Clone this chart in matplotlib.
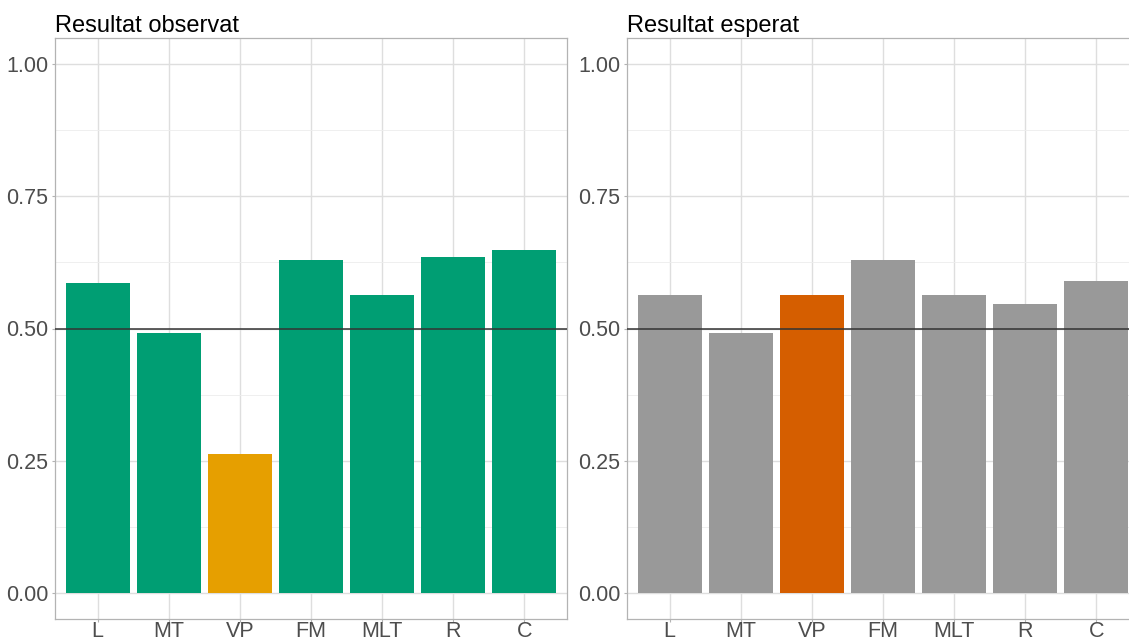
import matplotlib.pyplot as plt
import numpy as np

categories = ['L', 'MT', 'VP', 'FM', 'MLT', 'R', 'C']
observed = [0.587, 0.492, 0.263, 0.629, 0.564, 0.636, 0.648]
expected = [0.564, 0.492, 0.5625, 0.629, 0.564, 0.547, 0.589]
observed_colors = ['#009E73', '#009E73', '#E69F00', '#009E73', '#009E73', '#009E73', '#009E73']
expected_colors = ['#999999', '#999999', '#D55E00', '#999999', '#999999', '#999999', '#999999']
titles = ['Resultat observat', 'Resultat esperat']

plt.rcParams['font.family'] = ['Liberation Sans', 'DejaVu Sans']

W, H = 1129, 640
fig = plt.figure(figsize=(W / 100, H / 100), dpi=100)

def panel(left, right, values, colors, title):
    top, bottom = 38, 619
    ax = fig.add_axes([left / W, 1 - bottom / H, (right - left) / W, (bottom - top) / H])
    x = np.arange(len(categories))
    ax.bar(x, values, width=0.9, color=colors, zorder=2)
    ax.axhline(0.5, color='#333333', lw=1.1, zorder=3)
    ax.set_xlim(-0.6, len(categories) - 0.4)
    ax.set_ylim(-0.05, 1.05)
    ax.set_xticks(x)
    ax.set_xticklabels(categories)
    ax.set_yticks([0, 0.25, 0.5, 0.75, 1.0])
    ax.set_yticklabels(['0.00', '0.25', '0.50', '0.75', '1.00'])
    ax.set_yticks([0.125, 0.375, 0.625, 0.875], minor=True)
    ax.grid(True, which='major', color='#DEDEDE', lw=1.0, zorder=0)
    ax.grid(True, which='minor', axis='y', color='#EDEDED', lw=0.6, zorder=0)
    ax.tick_params(which='major', length=2.2, width=0.8, color='#B3B3B3',
                   labelcolor='#4D4D4D', labelsize=15.5)
    ax.tick_params(axis='y', pad=2.8)
    ax.tick_params(axis='x', pad=-1)
    ax.tick_params(which='minor', length=0)
    for s in ax.spines.values():
        s.set_color('#B3B3B3')
        s.set_linewidth(0.9)
    ax.set_title(title, loc='left', fontsize=17, color='black', pad=4)
    ax.set_axisbelow(True)
    return ax

panel(55, 567, observed, observed_colors, titles[0])
panel(627, 1139, expected, expected_colors, titles[1])

fig.savefig('out.png', dpi=100, facecolor='white')
